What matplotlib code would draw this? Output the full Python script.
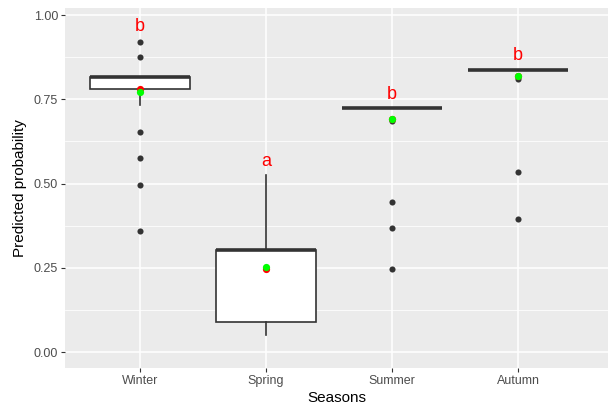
import numpy as np
import matplotlib
matplotlib.use("Agg")
import matplotlib.pyplot as plt

plt.rcParams["font.family"] = ["Liberation Sans", "DejaVu Sans"]

# data
seasons = ["Winter", "Spring", "Summer", "Autumn"]
q1 = [0.781, 0.088, 0.724, 0.838]
med = [0.816, 0.302, 0.724, 0.838]
q3 = [0.816, 0.302, 0.724, 0.838]
whis_lo = [0.733, 0.051, 0.724, 0.838]
whis_hi = [0.816, 0.526, 0.724, 0.838]
outliers = [
    [0.920, 0.876, 0.652, 0.577, 0.496, 0.359],
    [],
    [0.687, 0.446, 0.368, 0.248],
    [0.810, 0.534, 0.395],
]
red_pts = [0.782, 0.247, 0.691, 0.820]
green_pts = [0.771, 0.252, 0.691, 0.820]
letters = ["b", "a", "b", "b"]
letter_y = [0.966, 0.566, 0.765, 0.880]

BG = "#EBEBEB"
DARK = "#333333"

fig = plt.figure(figsize=(6.08, 4.07), dpi=100)
ax = fig.add_axes([65 / 608, 1 - 368 / 407, 1 - 65 / 608, (368 - 8) / 407])
ax.set_facecolor(BG)

pos = np.arange(1, len(seasons) + 1)
stats = []
for i in range(len(seasons)):
    stats.append(dict(med=med[i], q1=q1[i], q3=q3[i], whislo=whis_lo[i],
                      whishi=whis_hi[i], fliers=[], label=seasons[i]))

ax.bxp(stats, positions=pos, widths=0.79, showfliers=False, patch_artist=True,
       boxprops=dict(facecolor="white", edgecolor=DARK, linewidth=1.2),
       medianprops=dict(color=DARK, linewidth=2.6, solid_capstyle="butt"),
       whiskerprops=dict(color=DARK, linewidth=1.2),
       capprops=dict(linewidth=0), zorder=3)

for i, pts in enumerate(outliers):
    ax.plot([pos[i]] * len(pts), pts, "o", color=DARK, markersize=4.4,
            markeredgewidth=0, zorder=4)

ax.plot(pos, red_pts, "o", color="#FF0000", markersize=5.2, markeredgewidth=0, zorder=5)
ax.plot(pos, green_pts, "o", color="#00FF00", markersize=5.2, markeredgewidth=0, zorder=6)

for i, t in enumerate(letters):
    ax.text(pos[i], letter_y[i], t, color="#FF0000", fontsize=13,
            ha="center", va="center", zorder=7)

ax.set_xlim(0.405, 4.714)
ax.set_ylim(-0.047, 1.021)
ax.set_yticks([0, 0.25, 0.5, 0.75, 1.0])
ax.set_yticklabels(["0.00", "0.25", "0.50", "0.75", "1.00"])
ax.set_yticks([0.125, 0.375, 0.625, 0.875], minor=True)
ax.set_xticks(pos)
ax.set_xticklabels(seasons)

ax.grid(which="major", color="white", linewidth=1.1, zorder=0)
ax.grid(which="minor", axis="y", color="white", linewidth=0.55, zorder=0)
ax.set_axisbelow(True)
for s in ax.spines.values():
    s.set_visible(False)
ax.tick_params(which="major", length=3, width=0.8, color=DARK,
               labelsize=9, labelcolor="#4D4D4D", pad=2)
ax.tick_params(which="minor", length=0)

ax.set_xlabel("Seasons", fontsize=11, color="black", labelpad=3)
ax.set_ylabel("Predicted probability", fontsize=11, color="black", labelpad=5)

fig.savefig("out.png", dpi=100)
